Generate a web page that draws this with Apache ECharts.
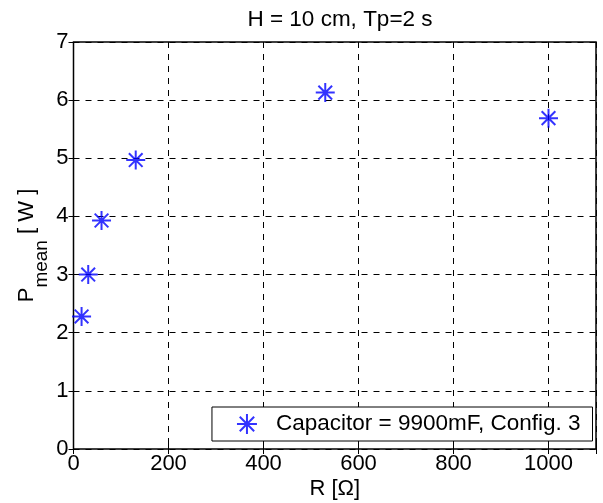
<!DOCTYPE html>
<html>
<head>
    <meta charset="UTF-8">
    <title>P mean vs R</title>
    <script src="https://cdn.jsdelivr.net/npm/echarts@6/dist/echarts.min.js"></script>
    <style>
        html, body { margin: 0; padding: 0; background: #fff; }
    </style>
</head>
<body>
<div id="main" style="width: 603px;height:503px;"></div>
<script type="text/javascript">
    // resistance [ohm] and mean power [W]
    var resistance = [17, 31, 59, 131, 530, 1000];
    var pMean = [2.28, 3.0, 3.93, 4.97, 6.13, 5.69];
    var seriesName = 'Capacitor = 9900mF, Config. 3';

    var points = [];
    for (var i = 0; i < resistance.length; i++) {
        points.push([resistance[i], pMean[i]]);
    }

    // matlab style '*' marker
    var star = 'path://M0,-1L0,1M-1,0L1,0M-0.72,-0.72L0.72,0.72M-0.72,0.72L0.72,-0.72';
    var font = 'Liberation Sans, Arial, sans-serif';
    var fs = 22;

    var tickStyle = { inside: true, length: 5, lineStyle: { color: '#000' } };
    var gridDash = { show: true, lineStyle: { color: '#000', type: [6, 6], width: 1 } };

    var myChart = echarts.init(document.getElementById('main'));

    var option = {
        animation: false,
        title: {
            text: 'H = 10 cm, Tp=2 s',
            left: 335,
            textAlign: 'center',
            top: 3,
            textStyle: { fontFamily: font, fontSize: 22.5, fontWeight: 'normal', color: '#000' }
        },
        grid: {
            left: 73.5, right: 7, top: 42, bottom: 54,
            outerBoundsMode: 'none',
            containLabel: false,
            show: true, borderColor: '#000', borderWidth: 1.5
        },
        legend: {
            right: 10.5, bottom: 62,
            borderColor: '#000', borderWidth: 1,
            backgroundColor: '#fff',
            padding: [5, 12, 5, 24],
            itemWidth: 20, itemHeight: 20,
            textStyle: { fontFamily: font, fontSize: 22.5, color: '#000', lineHeight: 24, padding: [0, 0, 0, 14] },
            data: [{ name: seriesName, icon: star, itemStyle: { color: '#0000ff', borderColor: '#0000ff', borderWidth: 2 } }]
        },
        xAxis: [{
            type: 'value',
            min: 0, max: 1100, interval: 200,
            name: 'R [Ω]',
            nameLocation: 'middle',
            nameGap: 29,
            nameMoveOverlap: false,
            nameTextStyle: { fontFamily: font, fontSize: fs, color: '#000' },
            axisLine: { show: false },
            axisTick: tickStyle,
            axisLabel: {
                fontFamily: font, fontSize: fs, color: '#000', margin: 4,
                formatter: function (v) { return v > 1000 ? '' : v; }
            },
            splitLine: gridDash
        }, {
            type: 'value', position: 'top',
            min: 0, max: 1100, interval: 200,
            axisLine: { show: false },
            axisTick: tickStyle,
            axisLabel: { show: false },
            splitLine: { show: false }
        }],
        yAxis: [{
            type: 'value',
            min: 0, max: 7, interval: 1,
            name: '{n|P}{s|mean}{n| [ W ]}',
            nameLocation: 'middle',
            nameGap: 34,
            nameMoveOverlap: false,
            nameRotate: 90,
            nameTextStyle: {
                rich: {
                    n: { fontFamily: font, fontSize: fs, color: '#000', lineHeight: 24, verticalAlign: 'top' },
                    s: { fontFamily: font, fontSize: 19, color: '#000', lineHeight: 20, verticalAlign: 'top', padding: [17, 0, 0, 0] }
                }
            },
            axisLine: { show: false },
            axisTick: tickStyle,
            axisLabel: { fontFamily: font, fontSize: fs, color: '#000', margin: 5 },
            splitLine: gridDash
        }, {
            type: 'value', position: 'right',
            min: 0, max: 7, interval: 1,
            axisLine: { show: false },
            axisTick: tickStyle,
            axisLabel: { show: false },
            splitLine: { show: false }
        }],
        series: [{
            name: seriesName,
            type: 'scatter',
            data: points,
            symbol: star,
            symbolSize: 19,
            itemStyle: { color: '#0000ff', borderColor: '#0000ff', borderWidth: 2 }
        }]
    };

    myChart.setOption(option);
</script>
</body>
</html>
